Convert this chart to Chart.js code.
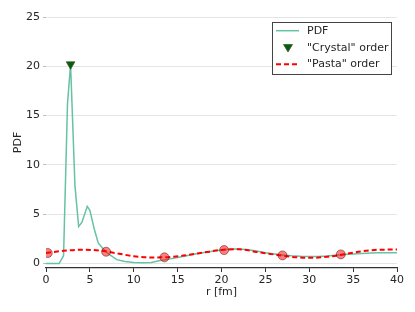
<!DOCTYPE html>
<html>
<head>
<meta charset="utf-8">
<script src="https://cdn.jsdelivr.net/npm/chart.js@4/dist/chart.umd.min.js"></script>
<style>
  html, body { margin: 0; padding: 0; background: #fff; }
  #wrap { width: 415px; height: 312px; position: relative; }
</style>
</head>
<body>
<div id="wrap"><canvas id="c"></canvas></div>
<script>
// PDF curve (r in fm, value)
const pdfR = [0, 1.5, 2.0, 2.45, 2.8, 3.3, 3.72, 4.1, 4.7, 5.0, 5.5, 5.95, 6.5, 7.1, 8.05, 9, 10, 11, 12, 13, 14, 15, 16, 17, 18, 19, 20, 21, 22, 23, 24, 25, 26, 27, 28, 29, 30, 31, 32, 33, 34, 35, 36, 37, 38, 39, 40];
const pdfV = [0, 0, 0.8, 16.2, 20.2, 7.9, 3.75, 4.2, 5.8, 5.4, 3.5, 2.1, 1.5, 1.0, 0.4, 0.2, 0.1, 0.08, 0.12, 0.3, 0.45, 0.62, 0.8, 0.97, 1.12, 1.25, 1.38, 1.47, 1.48, 1.4, 1.27, 1.1, 0.97, 0.86, 0.78, 0.73, 0.71, 0.72, 0.77, 0.85, 0.92, 0.98, 1.03, 1.07, 1.09, 1.1, 1.1];
// "Pasta" order curve
const pastaR = [0, 2, 4, 6, 8, 10, 12, 14, 16, 18, 20, 22, 24, 26, 28, 30, 32, 34, 36, 38, 40];
const pastaV = [1.07, 1.3, 1.4, 1.33, 1.05, 0.75, 0.62, 0.65, 0.85, 1.12, 1.38, 1.45, 1.18, 0.92, 0.68, 0.58, 0.68, 0.95, 1.25, 1.4, 1.42];
// sampled points on the pasta curve
const sampleR = [0.2, 6.85, 13.5, 20.3, 26.95, 33.6];
const sampleV = [1.07, 1.2, 0.63, 1.37, 0.83, 0.93];
// "Crystal" order peak
const crystalR = [2.8];
const crystalV = [20.2];
// axis ticks
const xTicks = [0, 5, 10, 15, 20, 25, 30, 35, 40];
const yTicks = [0, 5, 10, 15, 20, 25];
const legendLabels = ['PDF', '"Crystal" order', '"Pasta" order'];

const GREEN = '#66c2a5';
const FONT = 'DejaVu Sans';
const TXT = '#262626';
const GRID = '#e5e5e5';

const zip = (a, b) => a.map((x, i) => ({x: x, y: b[i]}));

const legendPlugin = {
  id: 'boxLegend',
  afterDraw(chart) {
    const ctx = chart.ctx;
    ctx.save();
    const bx = 272.5, by = 22.5, bw = 119, bh = 52;
    ctx.fillStyle = '#fff';
    ctx.fillRect(bx, by, bw, bh);
    ctx.strokeStyle = '#444';
    ctx.lineWidth = 1;
    ctx.strokeRect(bx, by, bw, bh);
    const rows = [30.7, 48, 64.3];
    // PDF line
    ctx.strokeStyle = GREEN; ctx.lineWidth = 1.5;
    ctx.beginPath(); ctx.moveTo(276, rows[0]); ctx.lineTo(299, rows[0]); ctx.stroke();
    // triangle
    ctx.fillStyle = '#006400'; ctx.strokeStyle = '#444'; ctx.lineWidth = 0.7;
    ctx.beginPath();
    ctx.moveTo(283.5, rows[1] - 3.5); ctx.lineTo(292.5, rows[1] - 3.5); ctx.lineTo(288, rows[1] + 4);
    ctx.closePath(); ctx.fill(); ctx.stroke();
    // dashed
    ctx.strokeStyle = '#ff0000'; ctx.lineWidth = 2; ctx.setLineDash([5, 3]);
    ctx.beginPath(); ctx.moveTo(276, rows[2]); ctx.lineTo(299, rows[2]); ctx.stroke();
    ctx.setLineDash([]);
    ctx.fillStyle = TXT;
    ctx.font = '11px "' + FONT + '"';
    ctx.textBaseline = 'middle';
    ctx.textAlign = 'left';
    legendLabels.forEach((t, i) => ctx.fillText(t, 307, rows[i]));
    ctx.restore();
  }
};

new Chart(document.getElementById('c'), {
  type: 'scatter',
  data: {
    datasets: [
      {
        label: legendLabels[1],
        data: zip(crystalR, crystalV),
        pointStyle: 'triangle',
        rotation: 180,
        pointRadius: 5,
        backgroundColor: '#006400',
        borderColor: '#444',
        borderWidth: 0.7,
        showLine: false
      },
      {
        label: 'samples',
        data: zip(sampleR, sampleV),
        pointStyle: 'circle',
        pointRadius: 4.5,
        backgroundColor: 'rgba(255,0,0,0.5)',
        borderColor: 'rgba(60,0,0,0.45)',
        borderWidth: 1,
        showLine: false
      },
      {
        label: legendLabels[2],
        data: zip(pastaR, pastaV),
        showLine: true,
        borderColor: '#ff0000',
        borderWidth: 2,
        borderDash: [5, 3],
        pointRadius: 0,
        cubicInterpolationMode: 'monotone',
        fill: false
      },
      {
        label: legendLabels[0],
        data: zip(pdfR, pdfV),
        showLine: true,
        borderColor: GREEN,
        borderWidth: 1.5,
        pointRadius: 0,
        tension: 0,
        fill: false
      }
    ]
  },
  options: {
    responsive: true,
    maintainAspectRatio: false,
    animation: false,
    layout: { padding: { top: 17, right: 18, left: 0, bottom: 0 } },
    plugins: { legend: { display: false }, tooltip: { enabled: false } },
    scales: {
      x: {
        type: 'linear', min: 0, max: 40,
        afterBuildTicks: s => { s.ticks = xTicks.map(v => ({value: v})); },
        afterFit: s => { s.height = 44; },
        ticks: { font: { family: FONT, size: 11 }, color: TXT, padding: 2, maxRotation: 0 },
        grid: { drawOnChartArea: false, drawTicks: true, tickLength: 4, tickColor: '#333', tickWidth: 1 },
        border: { display: true, color: '#333', width: 1.2 },
        title: { display: true, text: 'r [fm]', font: { family: FONT, size: 11 }, color: TXT, padding: { top: 0, bottom: 13.7 } }
      },
      y: {
        type: 'linear', min: -0.45, max: 25,
        afterBuildTicks: s => { s.ticks = yTicks.map(v => ({value: v})); },
        afterFit: s => { s.width = 46; },
        ticks: { font: { family: FONT, size: 11 }, color: TXT, padding: 3 },
        grid: { color: GRID, lineWidth: 1, drawTicks: true, tickLength: 3, tickColor: '#bbb' },
        border: { display: false },
        title: { display: true, text: 'PDF', font: { family: FONT, size: 11 }, color: TXT, padding: { top: 11.7, bottom: 0 } }
      }
    }
  },
  plugins: [legendPlugin]
});
</script>
</body>
</html>
